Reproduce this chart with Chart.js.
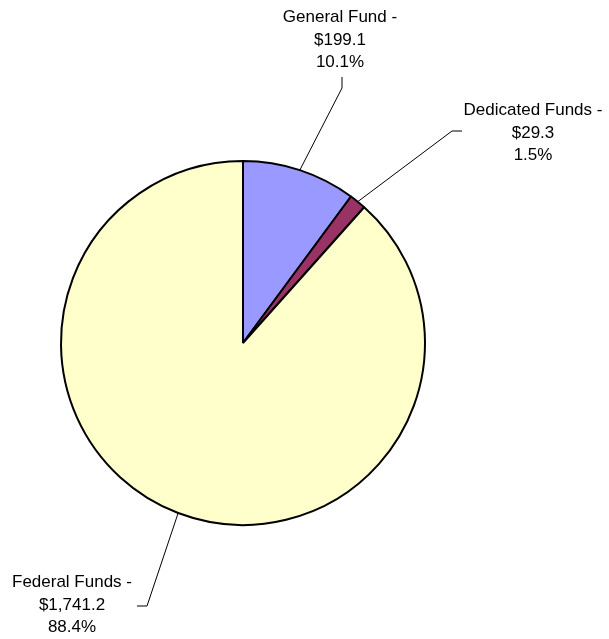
<!DOCTYPE html>
<html>
<head>
<meta charset="utf-8">
<script src="https://cdn.jsdelivr.net/npm/chart.js@4.4.0/dist/chart.umd.min.js"></script>
<style>
  html, body { margin: 0; padding: 0; background: #fff; }
  #wrap { width: 609px; height: 639px; }
</style>
</head>
<body>
<div id="wrap"><canvas id="pieChart" width="609" height="639"></canvas></div>
<script>
var labels = ['General Fund', 'Dedicated Funds', 'Federal Funds'];
var amounts = [199.1, 29.3, 1741.2];
var amountText = ['$199.1', '$29.3', '$1,741.2'];
var percents = ['10.1%', '1.5%', '88.4%'];
var colors = ['#9999FF', '#993366', '#FFFFCC'];

// elbow and text spots for each leader line
var callouts = [
    { elbow: [342, 88], end: [342, 77], text: [340, 17] },
    { elbow: [452, 131], end: [462, 131], text: [533, 110] },
    { elbow: [147, 606], end: [137, 606], text: [72, 582] }
];

var calloutPlugin = {
    id: 'callouts',
    afterDatasetsDraw: function (chart) {
        var c = chart.ctx;
        var arcs = chart.getDatasetMeta(0).data;
        c.save();
        c.strokeStyle = '#000';
        c.lineWidth = 1;
        c.fillStyle = '#000';
        c.font = '17px "Liberation Sans", Arial, sans-serif';
        c.textAlign = 'center';
        c.textBaseline = 'middle';
        arcs.forEach(function (arc, i) {
            var p = arc.getProps(['x', 'y', 'startAngle', 'endAngle', 'outerRadius'], true);
            var mid = (p.startAngle + p.endAngle) / 2;
            var sx = p.x + Math.cos(mid) * p.outerRadius;
            var sy = p.y + Math.sin(mid) * p.outerRadius;
            var co = callouts[i];
            c.beginPath();
            c.moveTo(sx, sy);
            c.lineTo(co.elbow[0], co.elbow[1]);
            c.lineTo(co.end[0], co.end[1]);
            c.stroke();
            c.fillText(labels[i] + ' -', co.text[0], co.text[1]);
            c.fillText(amountText[i], co.text[0], co.text[1] + 23);
            c.fillText(percents[i], co.text[0], co.text[1] + 45.5);
        });
        c.restore();
    }
};

var ctx = document.getElementById('pieChart').getContext('2d');
var myChart = new Chart(ctx, {
    type: 'pie',
    data: {
        labels: labels,
        datasets: [{
            data: amounts,
            backgroundColor: colors,
            borderColor: '#000',
            borderWidth: 2
        }]
    },
    options: {
        responsive: false,
        animation: false,
        layout: { padding: { left: 60, right: 183, top: 160, bottom: 113 } },
        plugins: {
            legend: { display: false },
            tooltip: { enabled: false }
        }
    },
    plugins: [calloutPlugin]
});
</script>
</body>
</html>
